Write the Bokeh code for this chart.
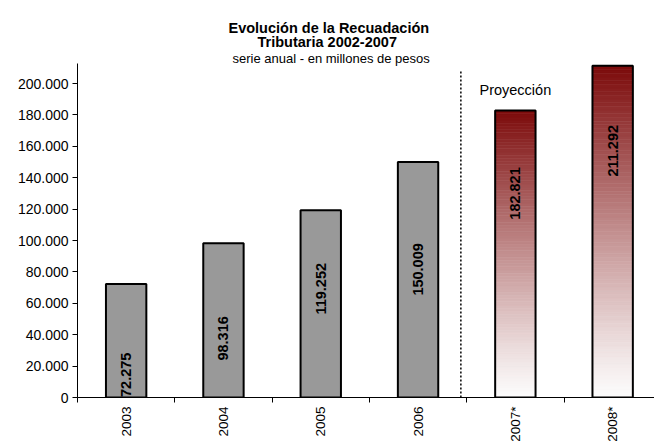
import math
from bokeh.plotting import figure
from bokeh.models import Range1d, FixedTicker, Label, ColumnDataSource, Title
from bokeh.core.properties import value
from bokeh.embed import file_html
from bokeh.resources import INLINE

# ---- data ----
categories = ["2003", "2004", "2005", "2006", "2007*", "2008*"]
actual = [72275, 98316, 119252, 150009]
projected = [182821, 211292]
y_ticks = [0, 20000, 40000, 60000, 80000, 100000, 120000, 140000, 160000, 180000, 200000]
label_frac = [0.20, 0.383, 0.581, 0.544, 0.711, 0.744]  # label anchor as fraction of bar value

title_lines = ["Evolución de la Recuadación", "Tributaria 2002-2007"]
subtitle = "serie anual - en millones de pesos"
proj_text = "Proyección"


def fmt(v):
    return f"{v:,}".replace(",", ".")


FONT = "Liberation Sans"
values = actual + projected
n_act = len(actual)
xs = [i + 0.5 for i in range(len(categories))]
bw = 0.415
Y_END = 212800

p = figure(width=654, height=444, output_backend="svg", toolbar_location=None,
           x_range=Range1d(0, 5.93), y_range=Range1d(0, Y_END),
           min_border_left=77, min_border_right=0, min_border_top=63, min_border_bottom=46)
p.xgrid.visible = False
p.ygrid.visible = False
p.outline_line_color = None
p.background_fill_color = "white"

# actual bars (gray)
src_act = ColumnDataSource(dict(x=xs[:n_act], top=actual))
p.vbar(x="x", top="top", width=bw, bottom=0, source=src_act,
       fill_color="#999999", line_color="black", line_width=2)

# projected bars with vertical gradient (dark red at top -> white at bottom)
N = 90
top_rgb = (124, 10, 10)
bot_rgb = (252, 252, 252)
gx, gb, gt, gc = [], [], [], []
for j, v in enumerate(projected):
    xc = xs[n_act + j]
    for i in range(N):
        f = ((i + 0.5) / N) ** 1.15  # 0 bottom -> 1 top
        r = round(bot_rgb[0] + (top_rgb[0] - bot_rgb[0]) * f)
        g = round(bot_rgb[1] + (top_rgb[1] - bot_rgb[1]) * f)
        b = round(bot_rgb[2] + (top_rgb[2] - bot_rgb[2]) * f)
        gx.append(xc)
        gb.append(v * i / N)
        gt.append(v * (i + 1) / N)
        gc.append(f"#{r:02x}{g:02x}{b:02x}")
p.vbar(x=gx, bottom=gb, top=gt, width=bw, fill_color=gc, line_color=gc, line_width=0.6)
src_proj = ColumnDataSource(dict(x=xs[n_act:], top=projected))
p.vbar(x="x", top="top", width=bw, bottom=0, source=src_proj,
       fill_color=None, line_color="black", line_width=2)

# value labels (rotated, bold)
lab_src = ColumnDataSource(dict(x=xs, y=[v * f for v, f in zip(values, label_frac)],
                                t=[fmt(v) for v in values]))
p.text(x="x", y="y", text="t", source=lab_src, angle=1.5708,
       text_align="center", text_baseline="middle",
       text_font=value(FONT), text_font_size="14.5px", text_font_style="bold",
       text_color="black")

# dotted separator between actual and projection
sep_x = n_act - 0.06
p.segment(x0=[sep_x], y0=[0], x1=[sep_x], y1=[Y_END * 0.982],
          line_color="black", line_width=1.5, line_dash="2 2")

# "Proyección" label
p.add_layout(Label(x=xs[n_act], y=Y_END * 0.922, text=proj_text, text_align="center",
                   text_baseline="alphabetic", text_font=FONT, text_font_size="14.5px",
                   text_color="black"))

# titles (added closest-to-frame first)
p.add_layout(Title(text=subtitle, align="left", offset=155, standoff=-5,
                   text_font=FONT, text_font_size="13px", text_font_style="normal",
                   text_color="black"), "above")
p.add_layout(Title(text=title_lines[1], align="left", offset=180, standoff=4,
                   text_font=FONT, text_font_size="14.5px", text_font_style="bold",
                   text_color="black"), "above")
p.add_layout(Title(text=title_lines[0], align="left", offset=151, standoff=-12,
                   text_font=FONT, text_font_size="14.5px", text_font_style="bold",
                   text_color="black"), "above")

# x axis: labels centred in categories, ticks at boundaries
p.xaxis.ticker = FixedTicker(ticks=xs, minor_ticks=list(range(len(categories) + 1)))
p.xaxis.major_label_overrides = {x: c for x, c in zip(xs, categories)}
p.xaxis.major_tick_line_color = None
p.xaxis.major_tick_out = 4
p.xaxis.major_tick_in = 0
p.xaxis.minor_tick_line_color = "black"
p.xaxis.minor_tick_out = 5
p.xaxis.minor_tick_in = 0
p.xaxis.major_label_orientation = math.pi / 2
p.xaxis.major_label_standoff = 4
p.xaxis.major_label_text_font_size = "13.5px"
p.xaxis.axis_line_color = "black"

# y axis
p.yaxis.ticker = FixedTicker(ticks=y_ticks, minor_ticks=[])
p.yaxis.major_label_overrides = {t: fmt(t) for t in y_ticks}
p.yaxis.major_tick_out = 5
p.yaxis.major_tick_in = 0
p.yaxis.minor_tick_line_color = None
p.yaxis.major_label_standoff = 4
p.yaxis.major_label_text_font_size = "14px"
p.yaxis.axis_line_color = "black"

for ax in (p.xaxis, p.yaxis):
    ax.major_label_text_font = FONT
    ax.major_label_text_color = "black"

open("out.html", "w").write(file_html(p, INLINE))
